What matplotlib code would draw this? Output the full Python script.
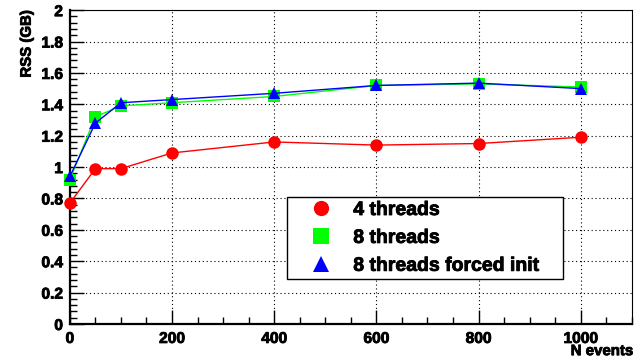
import matplotlib
matplotlib.use("Agg")
import matplotlib.pyplot as plt
import matplotlib.patheffects as pe
from matplotlib.lines import Line2D
from matplotlib.ticker import MultipleLocator

plt.rcParams['font.family'] = ['Liberation Sans', 'DejaVu Sans']
plt.rcParams['font.weight'] = 'bold'

n_events = [0, 50, 100, 200, 400, 600, 800, 1000]
rss_4threads = [0.77, 0.99, 0.99, 1.09, 1.16, 1.14, 1.15, 1.19]
rss_8threads = [0.92, 1.32, 1.39, 1.41, 1.45, 1.52, 1.53, 1.51]
rss_8threads_forced = [0.94, 1.28, 1.41, 1.43, 1.47, 1.52, 1.535, 1.50]

labels = ['4 threads', '8 threads', '8 threads forced init']
colors = ['#ff0000', '#00ff00', '#0000ff']
markers = ['o', 's', '^']
series = [rss_4threads, rss_8threads, rss_8threads_forced]

# ROOT draws its bold text quite heavy, so thicken the glyphs a little
heavy = [pe.withStroke(linewidth=0.6, foreground='black')]

fig = plt.figure(figsize=(6.35, 3.62), dpi=100)
ax = fig.add_axes([0.110, 0.105, 0.885, 0.867])

for vals, c, m in zip(series, colors, markers):
    ax.plot(n_events, vals, color=c, lw=1.0, marker=m, markersize=9,
            markeredgewidth=0, clip_on=False, zorder=3)

ax.set_xlim(0, 1100)
ax.set_ylim(0, 2)
ax.xaxis.set_major_locator(MultipleLocator(200))
ax.xaxis.set_minor_locator(MultipleLocator(50))
ax.yaxis.set_major_locator(MultipleLocator(0.2))
ax.yaxis.set_minor_locator(MultipleLocator(0.04))
ax.set_yticks([0, 0.2, 0.4, 0.6, 0.8, 1, 1.2, 1.4, 1.6, 1.8, 2])
ax.set_yticklabels(['0', '0.2', '0.4', '0.6', '0.8', '1', '1.2', '1.4', '1.6', '1.8', '2'])

ax.grid(True, which='major', color='black', linestyle=(0, (1, 2.5)), lw=0.8)
ax.tick_params(which='both', direction='in', labelsize=11.2, top=False, right=False)
ax.tick_params(which='major', length=10, width=1)
ax.tick_params(which='minor', length=5, width=1)
ax.tick_params(axis='x', pad=5)
ax.tick_params(axis='y', pad=5)
for lab in ax.get_xticklabels() + ax.get_yticklabels():
    lab.set_path_effects(heavy)

for side in ['left', 'bottom']:
    ax.spines[side].set_linewidth(1.6)
for side in ['top', 'right']:
    ax.spines[side].set_linewidth(0.8)

fig.text(0.042, 0.972, 'RSS (GB)', rotation=90, ha='center', va='top',
         fontsize=10.8, fontweight='bold', path_effects=heavy)
fig.text(0.997, 0.03, 'N events', ha='right', va='center',
         fontsize=10.8, fontweight='bold', path_effects=heavy)

handles = [Line2D([], [], color=c, marker=m, linestyle='none', markersize=11,
                  markeredgewidth=0) for c, m in zip(colors, markers)]
leg = ax.legend(handles, labels, loc='lower left',
                bbox_to_anchor=(0.386, 0.143, 0.491, 0.261), mode='expand',
                prop={'weight': 'bold', 'size': 14},
                frameon=True, fancybox=False, edgecolor='black',
                framealpha=1, borderpad=0.22, labelspacing=0.53,
                handlelength=3.1, handletextpad=0.1, borderaxespad=0)
leg.get_frame().set_linewidth(1.0)
leg.set_zorder(5)
for t in leg.get_texts():
    t.set_path_effects(heavy)

fig.savefig('out.png', dpi=100)
